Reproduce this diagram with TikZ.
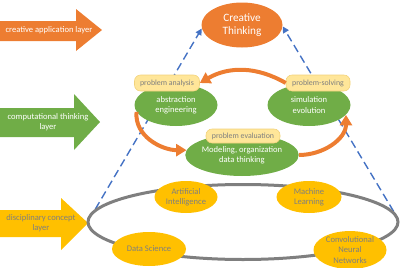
\documentclass[tikz,border=0pt]{standalone}
\usepackage{fontspec}
\setmainfont{Carlito}
\usetikzlibrary{arrows.meta,shapes.geometric,backgrounds}
\definecolor{orng}{HTML}{ED7D31}
\definecolor{grn}{HTML}{70AD47}
\definecolor{gold}{HTML}{FFC000}
\definecolor{blu}{HTML}{4472C4}
\definecolor{gry}{HTML}{7F7F7F}
\definecolor{pale}{HTML}{FFE699}
\definecolor{paleedge}{HTML}{F2D27A}
\definecolor{txtgray}{HTML}{7F7F7F}

\begin{document}
\begin{tikzpicture}[x=0.25mm,y=-0.25mm,
  every node/.style={font=\fontsize{6.1}{7.4}\selectfont},
  oval/.style={ellipse,inner sep=0pt,align=center},
  thinking/.style={oval,fill=grn,text=white,minimum width=20.75mm,minimum height=10.5mm},
  concept/.style={oval,fill=gold,text=txtgray},
  tag/.style={draw=paleedge,fill=pale,rounded corners=1.5mm,text=txtgray,minimum height=4mm,inner sep=0pt,font=\fontsize{5.6}{6.4}\selectfont},
  flow/.style={-{Triangle[length=2.6mm,width=3mm]},orng,line width=1mm},
  link/.style={-{Triangle[length=1.6mm,width=1.6mm]},blu,line width=0.35mm,dash pattern=on 2mm off 1.1mm},
  layer/.style={align=center}]
\useasboundingbox (0,0) rectangle (400,267);

% layer arrows
\fill[orng] (0,21) -| (76,9) -- (102,30) -- (76,51) |- (0,41) -- cycle;
\fill[grn] (0,108) -| (74,94) -- (100,122) -- (74,150) |- (0,137) -- cycle;
\fill[gold] (0,210) -| (61,198) -- (88,223) -- (61,250) |- (0,237) -- cycle;
\node[layer,text=white] (app) at (49,30) {creative application layer};
\node[layer,text=white] (comp) at (48,122) {computational thinking\\layer};
\node[layer,text=txtgray] (disc) at (41,223) {disciplinary concept\\layer};

% top
\node[oval,fill=orng,text=white,minimum width=20.25mm,minimum height=11.25mm,font=\fontsize{8}{9.6}\selectfont] (creative) at (242,25) {Creative\\Thinking};

% thinking
\node[thinking] (abs) at (176,105) {abstraction\\engineering};
\node[thinking] (sim) at (309,105) {simulation\\evolution};
\node[thinking,minimum width=27.5mm] (model) at (242,155) {Modeling, organization\\data thinking};
\node[tag,minimum width=16.25mm] (analysis) at (167,83) {problem analysis};
\node[tag,minimum width=16mm] (solving) at (318,83) {problem-solving};
\node[tag,minimum width=18.5mm,minimum height=3.5mm] (evaluation) at (243,136) {problem evaluation};

% concepts
\node[ellipse,draw=gry,line width=0.75mm,minimum width=77.5mm,minimum height=18.75mm] (field) at (243,222) {};
\node[concept,minimum width=15.75mm,minimum height=8mm] (ai) at (186,197) {Artificial\\Intelligence};
\node[concept,minimum width=16.25mm,minimum height=8mm] (ml) at (309,197) {Machine\\Learning};
\node[concept,minimum width=18.5mm,minimum height=8.5mm] (ds) at (149,249) {Data Science};
\node[concept,minimum width=18.25mm,minimum height=9mm] (cnn) at (350,250) {Convolutional\\Neural\\Networks};

% cycle
\draw[flow] (solving.west) to[bend right=30] (analysis.east);
\draw[flow] (abs.190) to[out=-95,in=180] (model.175);
\draw[flow] (model.east) to[out=0,in=-90] (sim.-15);

\begin{pgfonlayer}{background}
\draw[link] (field.175) -- (creative.185);
\draw[link] (field.4) -- (creative.-2);
\end{pgfonlayer}
\end{tikzpicture}
\end{document}
